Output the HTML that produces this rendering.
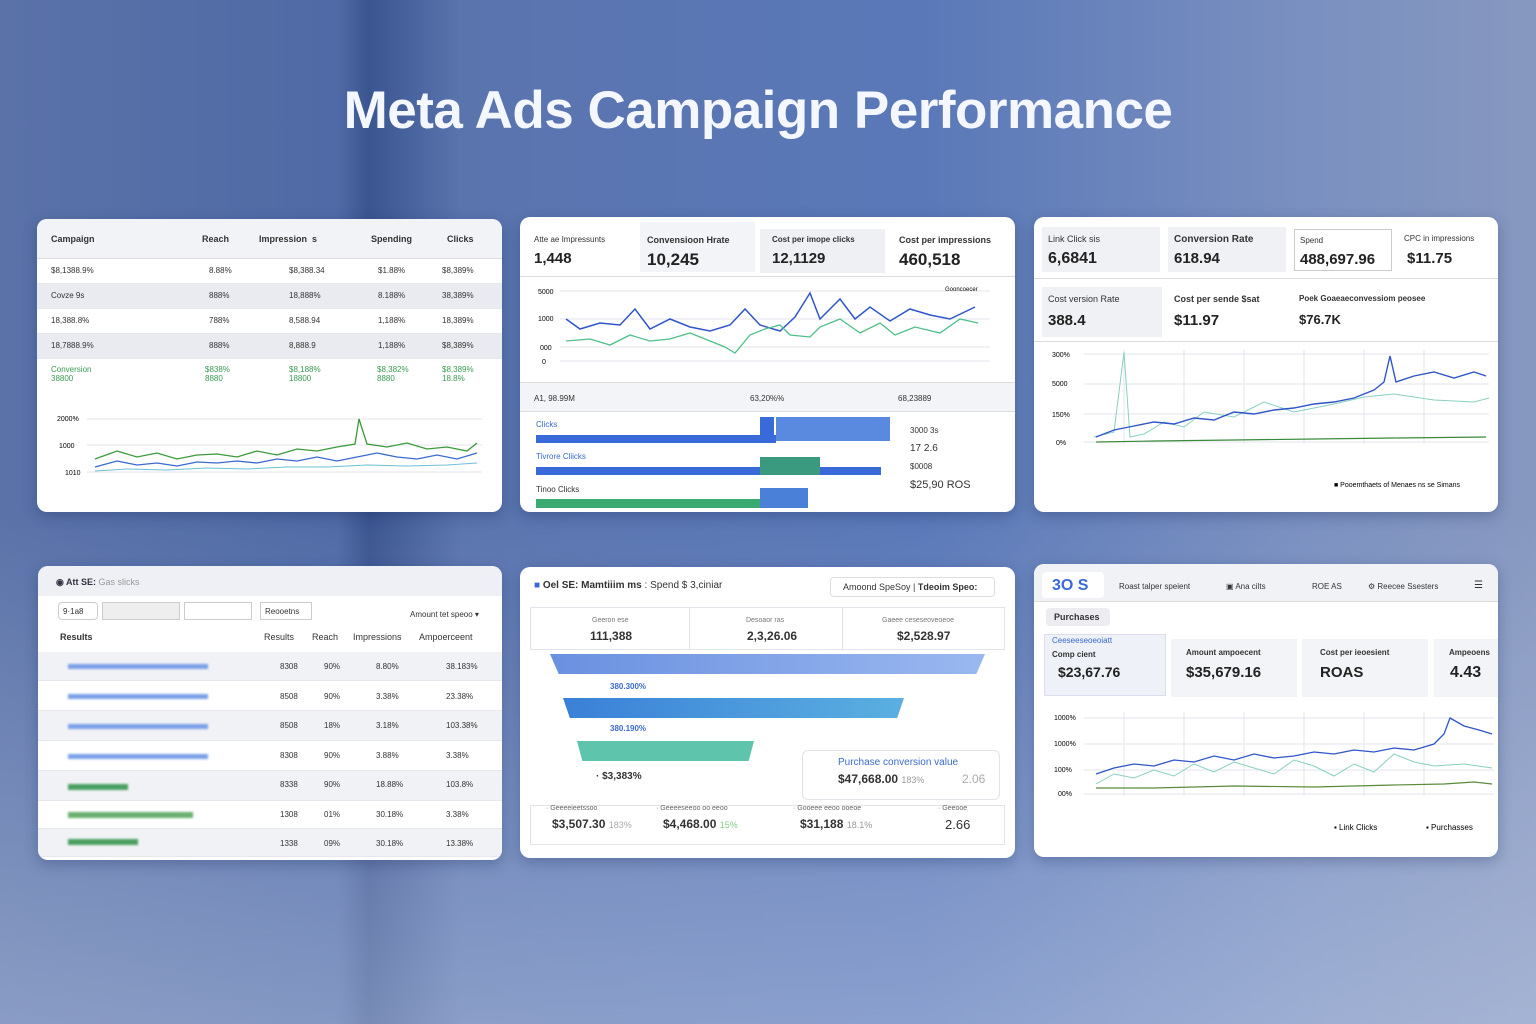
<!DOCTYPE html>
<html><head><meta charset="utf-8"><style>
*{margin:0;padding:0;box-sizing:border-box}
body{width:1536px;height:1024px;overflow:hidden;font-family:"Liberation Sans",sans-serif;position:relative;
background:linear-gradient(180deg,rgba(255,255,255,0) 0%,rgba(255,255,255,0) 50%,rgba(210,220,240,.4) 100%),linear-gradient(90deg,#5a72a8 0%,#4f6aa6 22%,#3b5590 24%,#5a74ae 30%,#5a78b8 60%,#7a90c0 85%,#8798c0 100%);}
.t{position:absolute;left:0;width:1516px;text-align:center;top:80px;color:#f4f7ff;font-size:53px;font-weight:bold;letter-spacing:-0.5px}
.p{position:absolute;background:#fff;border-radius:10px;box-shadow:0 4px 14px rgba(20,40,90,.3);overflow:hidden;color:#333;font-size:9px}
.a{position:absolute}
.b{font-weight:bold}
.big{font-size:15px;font-weight:bold;color:#222}
.g{color:#3a9a55}
.row{position:absolute;left:0;right:0;height:25px;border-bottom:1px solid #e6e8ee}
</style></head><body>
<div class="t">Meta Ads Campaign Performance</div>

<!-- P1 -->
<div class="p" style="left:37px;top:219px;width:465px;height:293px">
<div class="a b" style="left:0;right:0;top:0;height:40px;background:#f2f3f7;border-bottom:1px solid #ddd"></div>
<div class="a b" style="left:14px;top:15px">Campaign</div><div class="a b" style="left:165px;top:15px">Reach</div><div class="a b" style="left:222px;top:15px">Impression &nbsp;s</div><div class="a b" style="left:334px;top:15px">Spending</div><div class="a b" style="left:410px;top:15px">Clicks</div>
<div class="row" style="top:40px"></div><div class="row" style="top:65px;background:#e9ebf0"></div><div class="row" style="top:90px"></div><div class="row" style="top:115px;background:#e9ebf0"></div>
<div class="a" style="left:14px;top:39px;font-size:8px;line-height:25px">$8,1388.9%<br>Covze 9s<br>18,388.8%<br>18,7888.9%</div>
<div class="a" style="left:172px;top:39px;font-size:8px;line-height:25px">8.88%<br>888%<br>788%<br>888%</div>
<div class="a" style="left:252px;top:39px;font-size:8px;line-height:25px">$8,388.34<br>18,888%<br>8,588.94<br>8,888.9</div>
<div class="a" style="left:341px;top:39px;font-size:8px;line-height:25px">$1.88%<br>8.188%<br>1,188%<br>1,188%</div>
<div class="a" style="left:405px;top:39px;font-size:8px;line-height:25px">$8,389%<br>38,389%<br>18,389%<br>$8,389%</div>
<div class="a g" style="left:14px;top:146px;font-size:8px">Conversion<br>38800</div><div class="a g" style="left:168px;top:146px;font-size:8px">$838%<br>8880</div><div class="a g" style="left:252px;top:146px;font-size:8px">$8,188%<br>18800</div><div class="a g" style="left:340px;top:146px;font-size:8px">$8,382%<br>8880</div><div class="a g" style="left:405px;top:146px;font-size:8px">$8,389%<br>18.8%</div>
<svg class="a" style="left:0;top:180px" width="465" height="113"><g stroke="#e4e6ec"><line x1="50" y1="20" x2="445" y2="20"/><line x1="50" y1="46" x2="445" y2="46"/><line x1="50" y1="73" x2="445" y2="73"/></g>
<text x="20" y="22" font-size="7">2000%</text><text x="22" y="49" font-size="7">1000</text><text x="28" y="76" font-size="7">1010</text>
<polyline fill="none" stroke="#3a9a3a" stroke-width="1.3" points="58,60 80,52 100,58 120,54 140,60 160,56 180,55 200,58 220,52 240,56 260,50 280,52 300,48 318,45 322,20 330,45 350,48 370,44 390,50 410,48 430,52 440,44"/>
<polyline fill="none" stroke="#3a6ad0" stroke-width="1.3" points="58,68 80,62 100,66 120,64 140,67 160,63 180,64 200,62 220,64 240,60 260,62 280,58 300,62 320,58 340,54 360,58 380,60 400,56 420,60 440,54"/>
<polyline fill="none" stroke="#6cc0d8" stroke-width="1" points="58,72 90,70 130,71 170,69 210,70 250,68 290,68 330,66 370,67 410,66 440,64"/></svg>
</div>

<!-- P2 -->
<div class="p" style="left:520px;top:217px;width:495px;height:295px">
<div class="a" style="left:0;right:0;top:0;height:60px;border-bottom:1px solid #ddd"></div>
<div class="a" style="left:120px;top:5px;width:115px;height:50px;background:#f3f4f7"></div><div class="a" style="left:240px;top:12px;width:125px;height:44px;background:#eef0f4"></div>
<div class="a" style="left:14px;top:18px;font-size:8px">Atte ae Impressunts</div><div class="a big" style="left:14px;top:33px">1,448</div>
<div class="a b" style="left:127px;top:18px">Convensioon Hrate</div><div class="a big" style="left:127px;top:33px;font-size:17px">10,245</div>
<div class="a b" style="left:252px;top:18px;font-size:8px">Cost per imope clicks</div><div class="a big" style="left:252px;top:33px">12,1129</div>
<div class="a b" style="left:379px;top:18px">Cost per impressions</div><div class="a big" style="left:379px;top:33px;font-size:17px">460,518</div>
<svg class="a" style="left:0;top:62px" width="495" height="100"><g stroke="#e4e6ec"><line x1="40" y1="12" x2="470" y2="12"/><line x1="40" y1="40" x2="470" y2="40"/><line x1="40" y1="68" x2="470" y2="68"/><line x1="40" y1="82" x2="470" y2="82"/></g>
<text x="18" y="15" font-size="7">5000</text><text x="18" y="42" font-size="7">1000</text><text x="20" y="71" font-size="7">000</text><text x="22" y="85" font-size="7">0</text><text x="425" y="12" font-size="6">Gooncoecer</text>
<polyline fill="none" stroke="#2f55c8" stroke-width="1.5" points="46,40 60,50 80,44 100,46 115,30 130,50 150,40 170,48 190,52 210,46 225,30 240,46 260,52 275,38 290,14 300,40 310,30 320,20 335,40 350,28 370,42 390,30 410,36 430,40 455,28"/>
<polyline fill="none" stroke="#4fc08a" stroke-width="1.3" points="46,62 70,60 90,66 110,56 130,62 150,60 170,54 190,62 205,68 215,74 230,56 245,50 260,46 270,56 290,58 300,48 320,40 340,54 360,44 375,56 395,48 420,54 440,40 458,44"/>
</svg>
<div class="a" style="left:0;right:0;top:165px;height:30px;background:#f3f4f7;border-top:1px solid #ddd;border-bottom:1px solid #ddd"></div>
<div class="a" style="left:14px;top:177px;font-size:8px">A1, 98.99M</div><div class="a" style="left:230px;top:177px;font-size:8px">63,20%%</div><div class="a" style="left:378px;top:177px;font-size:8px">68,23889</div>
<div class="a" style="left:16px;top:203px;color:#3a6ad0;font-size:8px">Clicks</div><div class="a" style="left:16px;top:218px;width:240px;height:8px;background:#3a6ad8"></div>
<div class="a" style="left:240px;top:200px;width:130px;height:24px;background:linear-gradient(90deg,#3a6ad8 0,#3a6ad8 14px,transparent 14px,transparent 16px,#5a8ae0 16px)"></div>
<div class="a" style="left:16px;top:235px;color:#3a6ad0;font-size:8px">Tivrore Cliicks</div><div class="a" style="left:16px;top:250px;width:345px;height:8px;background:#3a6ad8"></div>
<div class="a" style="left:240px;top:240px;width:60px;height:18px;background:#3a9a80"></div>
<div class="a" style="left:16px;top:268px;font-size:8px">Tinoo Clicks</div><div class="a" style="left:16px;top:282px;width:270px;height:9px;background:#3aaa70"></div><div class="a" style="left:240px;top:271px;width:48px;height:20px;background:#4a80d8"></div>
<div class="a" style="left:390px;top:205px;font-size:8px;line-height:18px">3000 3s<br><span style="font-size:10px">17 2.6</span><br>$0008<br><span style="font-size:11px">$25,90 ROS</span></div>
</div>

<!-- P3 -->
<div class="p" style="left:1034px;top:217px;width:464px;height:295px">
<div class="a" style="left:0;right:0;top:0;height:62px;border-bottom:1px solid #ddd"></div>
<div class="a" style="left:8px;top:10px;width:118px;height:45px;background:#f0f1f5"></div><div class="a" style="left:134px;top:10px;width:118px;height:45px;background:#f0f1f5"></div><div class="a" style="left:260px;top:12px;width:98px;height:42px;border:1px solid #ccc"></div>
<div class="a" style="left:14px;top:17px;font-size:9px">Link Click sis</div><div class="a big" style="left:14px;top:33px;font-size:16px">6,6841</div>
<div class="a b" style="left:140px;top:17px;font-size:10px">Conversion Rate</div><div class="a big" style="left:140px;top:33px">618.94</div>
<div class="a" style="left:266px;top:19px;font-size:8px">Spend</div><div class="a big" style="left:266px;top:34px">488,697.96</div>
<div class="a" style="left:370px;top:17px;font-size:8px">CPC in impressions</div><div class="a big" style="left:373px;top:33px">$11.75</div>
<div class="a" style="left:8px;top:70px;width:120px;height:50px;background:#f0f1f5"></div>
<div class="a" style="left:14px;top:77px;font-size:9px">Cost version Rate</div><div class="a big" style="left:14px;top:95px">388.4</div>
<div class="a b" style="left:140px;top:77px;font-size:9px">Cost per sende $sat</div><div class="a big" style="left:140px;top:95px">$11.97</div>
<div class="a b" style="left:265px;top:77px;font-size:8px">Poek Goaeaeconvessiom peosee</div><div class="a big" style="left:265px;top:95px;font-size:13px">$76.7K</div>
<div class="a" style="left:0;right:0;top:124px;border-top:1px solid #ddd"></div>
<svg class="a" style="left:0;top:125px" width="464" height="170"><g stroke="#e2e6ee"><line x1="50" y1="12" x2="455" y2="12"/><line x1="50" y1="42" x2="455" y2="42"/><line x1="50" y1="72" x2="455" y2="72"/><line x1="50" y1="100" x2="455" y2="100"/><line x1="90" y1="8" x2="90" y2="102"/><line x1="150" y1="8" x2="150" y2="102"/><line x1="210" y1="8" x2="210" y2="102"/><line x1="270" y1="8" x2="270" y2="102"/><line x1="330" y1="8" x2="330" y2="102"/><line x1="390" y1="8" x2="390" y2="102"/></g>
<text x="18" y="15" font-size="7">300%</text><text x="18" y="44" font-size="7">5000</text><text x="18" y="75" font-size="7">150%</text><text x="22" y="103" font-size="7">0%</text>
<polyline fill="none" stroke="#8ad0c0" stroke-width="1" points="60,95 80,90 90,10 96,95 110,92 130,80 150,85 170,70 200,75 230,60 260,70 300,62 330,55 360,52 400,58 440,60 455,56"/>
<polyline fill="none" stroke="#2f55c8" stroke-width="1.4" points="62,95 80,88 100,84 120,80 140,82 160,76 180,78 200,70 220,72 240,68 260,66 280,62 300,60 320,56 340,48 350,40 356,14 362,40 380,34 400,30 420,36 440,30 452,34"/>
<polyline fill="none" stroke="#3a8a3a" stroke-width="1.2" points="62,100 120,99 200,98 280,97 360,96 452,95"/>
<text x="300" y="145" font-size="7">■ Pooemthaets of Menaes ns se Simans</text></svg>
</div>

<!-- P4 -->
<div class="p" style="left:38px;top:566px;width:464px;height:294px">
<div class="a" style="left:0;right:0;top:0;height:30px;background:#eef0f5"></div>
<div class="a b" style="left:18px;top:11px;color:#334">◉ Att SE: <span style="font-weight:normal;color:#999">Gas slicks</span></div>
<div class="a" style="left:20px;top:36px;width:40px;height:18px;border:1px solid #ccc;border-radius:4px;font-size:8px;padding:4px">9·1a8</div>
<div class="a" style="left:64px;top:36px;width:78px;height:18px;border:1px solid #ccc;background:#eee"></div><div class="a" style="left:146px;top:36px;width:68px;height:18px;border:1px solid #ccc"></div><div class="a" style="left:222px;top:36px;width:52px;height:18px;border:1px solid #ccc;font-size:8px;padding:4px">Reooetns</div>
<div class="a" style="left:372px;top:44px;font-size:8px">Amount tet speoo ▾</div>
<div class="a b" style="left:22px;top:66px">Results</div><div class="a" style="left:226px;top:66px">Results</div><div class="a" style="left:274px;top:66px">Reach</div><div class="a" style="left:315px;top:66px">Impressions</div><div class="a" style="left:381px;top:66px">Ampoerceent</div>
<div class="row" style="top:86px;height:29px;background:#f1f2f5"></div><div class="row" style="top:115px;height:30px"></div><div class="row" style="top:145px;height:30px;background:#f1f2f5"></div><div class="row" style="top:175px;height:30px"></div><div class="row" style="top:205px;height:30px;background:#f1f2f5"></div><div class="row" style="top:235px;height:28px"></div><div class="row" style="top:263px;height:28px;background:#f1f2f5"></div>
<div class="a" style="left:30px;top:98px;width:140px;height:5px;background:#7aa0e8;filter:blur(1px)"></div><div class="a" style="left:30px;top:128px;width:140px;height:5px;background:#7aa0e8;filter:blur(1px)"></div><div class="a" style="left:30px;top:158px;width:140px;height:5px;background:#7aa0e8;filter:blur(1px)"></div><div class="a" style="left:30px;top:188px;width:140px;height:5px;background:#7aa0e8;filter:blur(1px)"></div>
<div class="a" style="left:30px;top:218px;width:60px;height:6px;background:#4aa060;filter:blur(1px)"></div><div class="a" style="left:30px;top:246px;width:125px;height:6px;background:#6ab070;filter:blur(1px)"></div><div class="a" style="left:30px;top:273px;width:70px;height:6px;background:#4aa060;filter:blur(1px)"></div>
<div class="a" style="left:242px;top:86px;font-size:8px;line-height:29.5px">8308<br>8508<br>8508<br>8308<br>8338<br>1308<br>1338</div>
<div class="a" style="left:286px;top:86px;font-size:8px;line-height:29.5px">90%<br>90%<br>18%<br>90%<br>90%<br>01%<br>09%</div>
<div class="a" style="left:338px;top:86px;font-size:8px;line-height:29.5px">8.80%<br>3.38%<br>3.18%<br>3.88%<br>18.88%<br>30.18%<br>30.18%</div>
<div class="a" style="left:408px;top:86px;font-size:8px;line-height:29.5px">38.183%<br>23.38%<br>103.38%<br>3.38%<br>103.8%<br>3.38%<br>13.38%</div>
</div>

<!-- P5 -->
<div class="p" style="left:520px;top:567px;width:495px;height:291px">
<div class="a b" style="left:14px;top:13px;font-size:10px"><span style="color:#3a6ad8">■</span> Oel SE: Mamtiiim ms <span style="font-weight:normal">: Spend $ 3,ciniar</span></div>
<div class="a" style="left:310px;top:10px;width:165px;height:20px;border:1px solid #ddd;border-radius:4px;font-size:9px;padding:4px 12px">Amoond SpeSoy | <b>Tdeoim Speo:</b></div>
<div class="a" style="left:10px;top:40px;width:475px;height:43px;border:1px solid #e2e4ea"></div><div class="a" style="left:169px;top:40px;height:43px;border-left:1px solid #e2e4ea"></div><div class="a" style="left:322px;top:40px;height:43px;border-left:1px solid #e2e4ea"></div>
<div class="a" style="left:72px;top:50px;font-size:7px;color:#777">Geeron ese</div><div class="a b" style="left:70px;top:62px;font-size:12px">111,388</div>
<div class="a" style="left:226px;top:50px;font-size:7px;color:#777">Desoaor ras</div><div class="a b" style="left:227px;top:62px;font-size:12px">2,3,26.06</div>
<div class="a" style="left:362px;top:50px;font-size:7px;color:#777">Gaeee ceseseoveoeoe</div><div class="a b" style="left:377px;top:62px;font-size:12px">$2,528.97</div>
<div class="a" style="left:30px;top:87px;width:435px;height:20px;background:linear-gradient(90deg,#6a90e0,#9ab8f0);clip-path:polygon(0 0,100% 0,98% 100%,2% 100%)"></div>
<div class="a b" style="left:90px;top:115px;font-size:8px;color:#3a6ad0">380.300%</div>
<div class="a" style="left:43px;top:131px;width:341px;height:20px;background:linear-gradient(90deg,#3a80d8,#5ab0e0);clip-path:polygon(0 0,100% 0,98% 100%,2% 100%)"></div>
<div class="a b" style="left:90px;top:157px;font-size:8px;color:#3a6ad0">380.190%</div>
<div class="a" style="left:57px;top:174px;width:177px;height:20px;background:#5fc4ac;clip-path:polygon(0 0,100% 0,97% 100%,3% 100%)"></div>
<div class="a b" style="left:76px;top:204px;font-size:10px">· $3,383%</div>
<div class="a" style="left:282px;top:183px;width:198px;height:50px;border:1px solid #e2e4ea;border-radius:6px"></div>
<div class="a" style="left:318px;top:190px;font-size:10px;color:#3a6ad0">Purchase conversion value</div>
<div class="a b" style="left:318px;top:205px;font-size:12px">$47,668.00 <span style="font-weight:normal;font-size:9px;color:#999">183%</span></div><div class="a" style="left:442px;top:205px;font-size:12px;color:#aaa">2.06</div>
<div class="a" style="left:10px;top:238px;width:475px;height:40px;border:1px solid #e2e4ea"></div>
<div class="a" style="left:26px;top:238px;font-size:7px;color:#666">· Geeeeieetssoo</div><div class="a b" style="left:32px;top:250px;font-size:12px">$3,507.30 <span style="font-weight:normal;font-size:9px;color:#aaa">183%</span></div>
<div class="a" style="left:136px;top:238px;font-size:7px;color:#666">· Geeeeseeoo oo eeoo</div><div class="a b" style="left:143px;top:250px;font-size:12px">$4,468.00 <span style="font-weight:normal;font-size:9px;color:#8c8">15%</span></div>
<div class="a" style="left:273px;top:238px;font-size:7px;color:#666">· Gooeee eeoo ooeoe</div><div class="a b" style="left:280px;top:250px;font-size:12px">$31,188 <span style="font-weight:normal;font-size:9px;color:#999">18.1%</span></div>
<div class="a" style="left:418px;top:238px;font-size:7px;color:#666">· Geeooe</div><div class="a" style="left:425px;top:250px;font-size:13px">2.66</div>
</div>

<!-- P6 -->
<div class="p" style="left:1034px;top:564px;width:464px;height:293px">
<div class="a" style="left:0;right:0;top:0;height:38px;background:#f1f2f6;border-bottom:1px solid #ddd"></div>
<div class="a" style="left:8px;top:8px;width:62px;height:26px;background:#fff;border-radius:4px"></div>
<div class="a b" style="left:18px;top:13px;font-size:16px;color:#3a6ad8">3O S</div>
<div class="a" style="left:85px;top:18px;font-size:8px">Roast talper speient</div><div class="a" style="left:192px;top:18px;font-size:8px">▣ Ana cilts</div><div class="a" style="left:278px;top:18px;font-size:8px">ROE AS</div><div class="a" style="left:334px;top:18px;font-size:8px">⚙ Reecee Ssesters</div><div class="a" style="left:440px;top:16px;font-size:10px">☰</div>
<div class="a b" style="left:12px;top:44px;width:64px;height:18px;background:#ececf1;border-radius:4px;padding:4px 8px;font-size:9px">Purchases</div>
<div class="a" style="left:10px;top:70px;width:122px;height:62px;background:#eef1f8;border:1px solid #dde"></div>
<div class="a" style="left:18px;top:72px;font-size:8px;color:#3a6ad0">Ceeseeseoeoiatt</div><div class="a b" style="left:18px;top:86px;font-size:8px">Comp cient</div><div class="a big" style="left:24px;top:100px;font-size:14px">$23,67.76</div>
<div class="a" style="left:137px;top:75px;width:126px;height:58px;background:#f3f4f7"></div><div class="a" style="left:268px;top:75px;width:126px;height:58px;background:#f3f4f7"></div><div class="a" style="left:400px;top:75px;width:64px;height:58px;background:#f3f4f7"></div>
<div class="a b" style="left:152px;top:84px;font-size:8px">Amount ampoecent</div><div class="a big" style="left:152px;top:100px">$35,679.16</div>
<div class="a b" style="left:286px;top:84px;font-size:8px">Cost per ieoesient</div><div class="a big" style="left:286px;top:100px">ROAS</div>
<div class="a b" style="left:415px;top:84px;font-size:8px">Ampeoens</div><div class="a big" style="left:416px;top:100px;font-size:16px">4.43</div>
<svg class="a" style="left:0;top:140px" width="464" height="153"><g stroke="#e2e6ee"><line x1="50" y1="14" x2="460" y2="14"/><line x1="50" y1="40" x2="460" y2="40"/><line x1="50" y1="66" x2="460" y2="66"/><line x1="50" y1="90" x2="460" y2="90"/><line x1="90" y1="8" x2="90" y2="92"/><line x1="150" y1="8" x2="150" y2="92"/><line x1="210" y1="8" x2="210" y2="92"/><line x1="270" y1="8" x2="270" y2="92"/><line x1="330" y1="8" x2="330" y2="92"/><line x1="390" y1="8" x2="390" y2="92"/></g>
<text x="20" y="16" font-size="7">1000%</text><text x="20" y="42" font-size="7">1000%</text><text x="20" y="68" font-size="7">100%</text><text x="24" y="92" font-size="7">00%</text>
<polyline fill="none" stroke="#2f55c8" stroke-width="1.3" points="62,70 80,64 100,60 120,62 140,56 160,58 180,52 200,56 220,50 240,54 260,52 280,48 300,50 320,46 340,48 360,44 380,46 400,40 410,30 416,14 430,22 445,26 458,30"/>
<polyline fill="none" stroke="#8ad0c0" stroke-width="1" points="62,80 80,70 100,74 120,66 140,72 160,60 180,68 200,58 220,64 240,70 260,56 280,62 300,72 320,60 340,68 360,50 380,58 400,62 430,60 458,64"/>
<polyline fill="none" stroke="#5a8a3a" stroke-width="1.2" points="62,84 120,84 200,82 280,83 360,81 410,80 440,78 458,80"/>
<text x="300" y="126" font-size="8">▪ Link Clicks</text><text x="392" y="126" font-size="8">▪ Purchasses</text></svg>
</div>
</body></html>
